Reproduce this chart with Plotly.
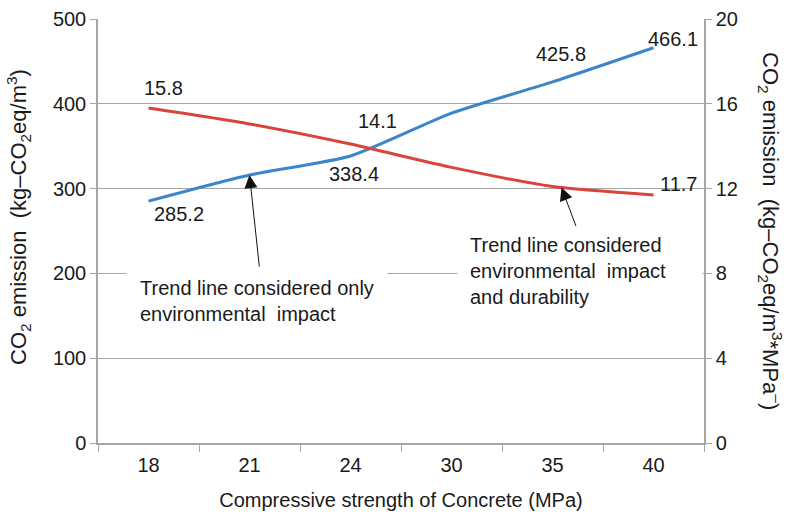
import plotly.graph_objects as go

# Compressive strength classes (MPa)
strength = ["18", "21", "24", "30", "35", "40"]
# CO2 emission per m3 of concrete (kg-CO2eq/m3), left axis
emission = [285.2, 316.0, 338.4, 389.0, 425.8, 466.1]
# CO2 emission per m3 per MPa, right axis
emission_per_mpa = [15.8, 15.05, 14.1, 13.0, 12.1, 11.7]

# Which points carry a value label, and the label offsets in pixels
emission_labels = {0: (30, -13), 2: (3, -18), 4: (8, 28), 5: (19, 9)}
per_mpa_labels = {0: (15, 20), 2: (27, 23), 5: (25, 11)}

left_ticks = [0, 100, 200, 300, 400, 500]
right_ticks = [0, 4, 8, 12, 16, 20]

BLUE = "#3a86c8"
RED = "#d9443e"
GRID = "#a6a6a6"
FONT = "Liberation Sans, Arial, sans-serif"
TXT = "#1a1a1a"

fig = go.Figure()
fig.add_trace(go.Scatter(
    x=strength, y=emission, mode="lines", line=dict(color=BLUE, width=3, shape="spline", smoothing=0.6),
    yaxis="y", showlegend=False, hoverinfo="skip"))
fig.add_trace(go.Scatter(
    x=strength, y=emission_per_mpa, mode="lines", line=dict(color=RED, width=3, shape="spline", smoothing=0.6),
    yaxis="y2", showlegend=False, hoverinfo="skip"))

# On a category axis annotations are placed by category index
ann = []
for i, (dx, dy) in emission_labels.items():
    ann.append(dict(x=i, y=emission[i], xref="x", yref="y", text=f"{emission[i]:.1f}",
                    showarrow=False, xshift=dx, yshift=dy, font=dict(size=20, color=TXT, family=FONT)))
for i, (dx, dy) in per_mpa_labels.items():
    ann.append(dict(x=i, y=emission_per_mpa[i], xref="x", yref="y2", text=f"{emission_per_mpa[i]:.1f}",
                    showarrow=False, xshift=dx, yshift=dy, font=dict(size=20, color=TXT, family=FONT)))

# Callout boxes
ann.append(dict(x=0.2616, y=0.336, xref="paper", yref="paper", xanchor="center", yanchor="middle",
                text="Trend line considered only<br>environmental  impact", align="left",
                showarrow=False, bgcolor="white", borderpad=13,
                font=dict(size=20, color=TXT, family=FONT)))
ann.append(dict(x=0.7946, y=0.4057, xref="paper", yref="paper", xanchor="center", yanchor="middle",
                text="Trend line considered<br>environmental  impact<br>and durability", align="left",
                showarrow=False, bgcolor="white", borderpad=12, width=220,
                font=dict(size=20, color=TXT, family=FONT)))

# Arrows from the callouts to the curves
ann.append(dict(x=1, y=emission[1], xref="x", yref="y", text="", showarrow=True,
                arrowhead=2, arrowsize=2.6, arrowwidth=1, arrowcolor="#111", ax=10, ay=93,
                standoff=0))
ann.append(dict(x=4, y=emission_per_mpa[4], xref="x", yref="y2", text="", showarrow=True,
                arrowhead=2, arrowsize=2.6, arrowwidth=1, arrowcolor="#111", ax=15, ay=40,
                xshift=9, yshift=-1, standoff=0))

# Axis titles
ann.append(dict(x=0, y=0.533, xref="paper", yref="paper", xshift=-80, xanchor="center", yanchor="middle",
                text="CO<sub>2</sub> emission  (kg\u2013CO<sub>2</sub>eq/m<sup>3</sup>)", textangle=-90,
                showarrow=False, font=dict(size=22, color=TXT, family=FONT)))
ann.append(dict(x=1, y=0.5, xref="paper", yref="paper", xshift=67, xanchor="center", yanchor="middle",
                text="CO<sub>2</sub> emission  (kg\u2013CO<sub>2</sub>eq/m<sup>3</sup>*MPa<sup>\u2013</sup>)",
                textangle=90, showarrow=False, font=dict(size=22, color=TXT, family=FONT)))

fig.update_layout(
    width=786, height=518,
    margin=dict(l=98, r=82, t=19, b=75),
    paper_bgcolor="white", plot_bgcolor="white",
    font=dict(family=FONT, size=20, color=TXT),
    xaxis=dict(type="category", range=[-0.5, 5.5], tickson="boundaries", ticks="outside", ticklen=7,
               tickcolor=GRID, showline=True, linecolor=GRID, linewidth=1.5, showgrid=False,
               automargin=False, tickfont=dict(size=20), ticklabelstandoff=3,
               title=dict(text="Compressive strength of Concrete (MPa)", font=dict(size=20), standoff=18)),
    yaxis=dict(range=[0, 500], tickvals=left_ticks, ticks="outside", ticklen=6, tickcolor=GRID,
               showline=True, linecolor=GRID, linewidth=1.5, showgrid=True, gridcolor=GRID,
               gridwidth=1.2, zeroline=False, automargin=False, tickfont=dict(size=20)),
    yaxis2=dict(range=[0, 20], tickvals=right_ticks, overlaying="y", side="right", ticks="outside",
                ticklen=6, tickcolor=GRID, showline=True, linecolor=GRID, linewidth=1.5,
                showgrid=False, zeroline=False, automargin=False, tickfont=dict(size=20)),
    annotations=ann,
)

fig.write_html("out.html")
